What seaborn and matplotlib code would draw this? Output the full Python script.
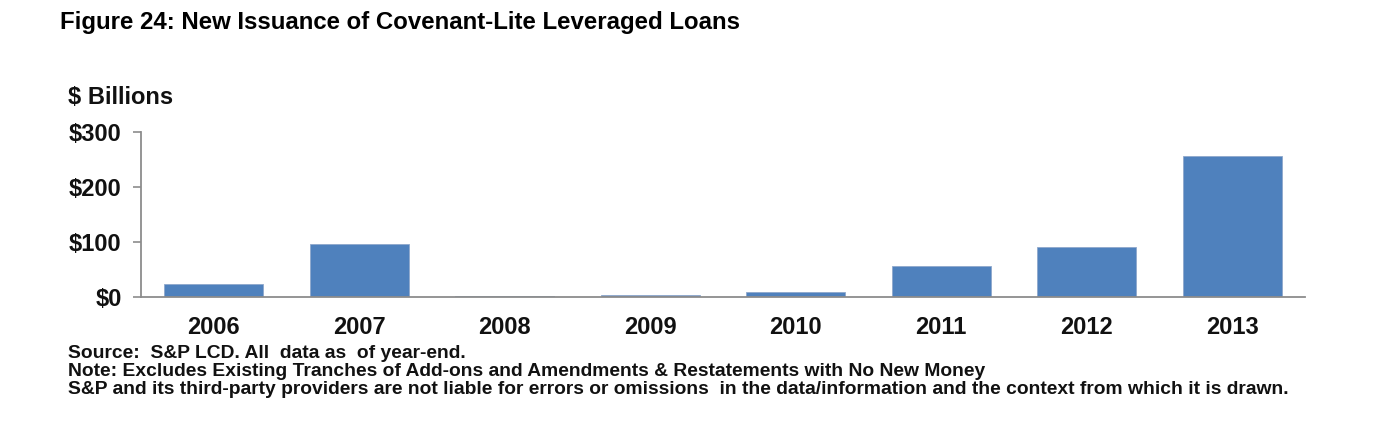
import matplotlib
matplotlib.use("Agg")
import matplotlib.pyplot as plt
from matplotlib import font_manager
import seaborn as sns
import pandas as pd

years = ["2006", "2007", "2008", "2009", "2010", "2011", "2012", "2013"]
issuance = [24, 97, 3, 4.5, 9.5, 57, 92, 258]
yticks = [0, 100, 200, 300]
ytick_labels = ["$0", "$100", "$200", "$300"]

title_text = "Figure 24: New Issuance of Covenant-Lite Leveraged Loans"
unit_text = "$ Billions"
notes = [
    "Source:  S&P LCD. All  data as  of year-end.",
    "Note: Excludes Existing Tranches of Add-ons and Amendments & Restatements with No New Money",
    "S&P and its third-party providers are not liable for errors or omissions  in the data/information and the context from which it is drawn.",
]

sns.set_theme(style="white")
names = {f.name for f in font_manager.fontManager.ttflist}
narrow = "Liberation Sans Narrow" if "Liberation Sans Narrow" in names else "Liberation Sans"
plt.rcParams["font.family"] = ["Liberation Sans", "DejaVu Sans"]

df = pd.DataFrame({"year": years, "value": issuance})

fig = plt.figure(figsize=(14, 4.44), dpi=100)
ax = fig.add_axes([0.1007, 0.330, 0.8314, 0.3716])
sns.barplot(data=df, x="year", y="value", color="#4F81BD", saturation=1,
            width=0.68, edgecolor="#8FA8CC", linewidth=0.6, ax=ax)
ax.set_xlim(-0.5, 7.5)
ax.set_ylim(0, 300)
ax.set_yticks(yticks)
ax.set_yticklabels(ytick_labels, fontsize=17, fontweight="bold", color="#111111")
ax.set_xticklabels(years, fontsize=17, fontweight="bold", color="#111111")
ax.set_xlabel("")
ax.set_ylabel("")
for s in ["top", "right"]:
    ax.spines[s].set_visible(False)
for s in ["left", "bottom"]:
    ax.spines[s].set_color("#8C8C8C")
    ax.spines[s].set_linewidth(1.3)
ax.tick_params(axis="y", which="both", left=True, length=6, width=1.2, color="#8C8C8C", pad=8)
ax.tick_params(axis="x", bottom=False, pad=7)

fig.text(60 / 1400, 1 - 22 / 444, title_text, fontsize=17.3, fontweight="bold",
         family=[narrow, "DejaVu Sans"], va="center", ha="left", color="black")
fig.text(68 / 1400, 1 - 97 / 444, unit_text, fontsize=17, fontweight="bold",
         va="center", ha="left", color="#111111")
for i, line in enumerate(notes):
    fig.text(68 / 1400, 1 - (354 + 17.5 * i) / 444, line, fontsize=13.9, fontweight="bold",
             va="center", ha="left", color="#111111")

fig.savefig("out.png", dpi=100)
